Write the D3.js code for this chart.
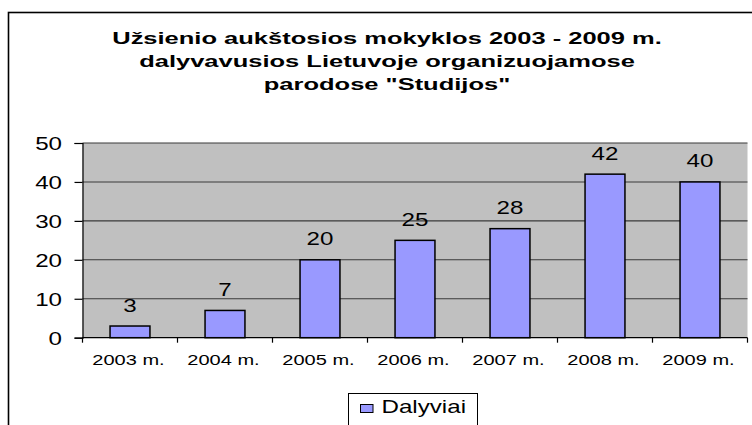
<!DOCTYPE html>
<html><head><meta charset="utf-8">
<script src="https://cdn.jsdelivr.net/npm/d3@7"></script>
<style>body{margin:0;background:#fff}svg{display:block}text{font-family:"Liberation Sans",Arial,sans-serif;fill:#000}</style>
</head><body><svg id="c" width="752" height="425"></svg>
<script>
const categories = ["2003 m.","2004 m.","2005 m.","2006 m.","2007 m.","2008 m.","2009 m."];
const values = [3,7,20,25,28,42,40];
const yTicks = [0,10,20,30,40,50];
const titleLines = ["Užsienio aukštosios mokyklos 2003 - 2009 m.","dalyvavusios Lietuvoje organizuojamose","parodose \"Studijos\""];
const seriesName = "Dalyviai";

const SX = 1.5, SX2 = 1.38;
const svg = d3.select("#c");
const L = 82.5, R = 747.5, T = 143, B = 337.7;
const x = d3.scaleBand().domain(categories).range([L,R]).paddingInner(0.58).paddingOuter(0.29);
const y = d3.scaleLinear().domain([0,50]).range([B,T]);

// outer frame
svg.append("rect").attr("x",8.5).attr("y",12.5).attr("width",800).attr("height",500)
  .attr("fill","#fff").attr("stroke","#000").attr("stroke-width",1.6);

// title
const tY = [43.5,67,90];
titleLines.forEach((t,i)=>{
  svg.append("text").attr("transform",`translate(387,${tY[i]}) scale(${SX},1)`)
    .attr("text-anchor","middle").style("font-size","17px").style("font-weight","bold").text(t);
});

// plot area
svg.append("rect").attr("x",L).attr("y",T).attr("width",R-L).attr("height",B-T).attr("fill","#c0c0c0");

// gridlines
svg.append("g").selectAll("line").data(yTicks.filter(d=>d>0)).join("line")
  .attr("x1",L).attr("x2",R).attr("y1",d=>y(d)).attr("y2",d=>y(d))
  .attr("stroke","#3a3a3a").attr("stroke-width",1.1);

// y axis
const ya = svg.append("g").attr("transform",`translate(${L},0)`)
  .call(d3.axisLeft(y).tickValues(yTicks).tickSize(8).tickPadding(0).tickFormat(d3.format("d")));
ya.select(".domain").attr("stroke","#000").attr("stroke-width",1.2);
ya.selectAll(".tick line").attr("stroke","#000").attr("stroke-width",1.2);
ya.selectAll(".tick text").remove();
ya.selectAll(".tick").append("text")
  .attr("transform",`translate(-20.5,0.5) scale(${SX2},1)`).attr("text-anchor","end").attr("dy","0.35em")
  .style("font-size","17.5px").style("font-family","'Liberation Sans',Arial,sans-serif").attr("fill","#000")
  .text(d=>d);

// bars
svg.append("g").selectAll("rect").data(values).join("rect")
  .attr("x",(d,i)=>x(categories[i])).attr("width",x.bandwidth())
  .attr("y",d=>y(d)).attr("height",d=>B-y(d))
  .attr("fill","#9999ff").attr("stroke","#000").attr("stroke-width",1.5);

// x axis
svg.append("line").attr("x1",L).attr("x2",R).attr("y1",B).attr("y2",B).attr("stroke","#000").attr("stroke-width",1.3);
const step = x.step();
svg.append("g").selectAll("line").data(d3.range(categories.length+1)).join("line")
  .attr("x1",i=>L+i*step).attr("x2",i=>L+i*step).attr("y1",B).attr("y2",B+5)
  .attr("stroke","#000").attr("stroke-width",1.2);
svg.append("g").selectAll("text").data(categories).join("text")
  .attr("transform",d=>`translate(${x(d)+x.bandwidth()/2-1.5},365) scale(${SX2},1)`)
  .attr("text-anchor","middle").style("font-size","14.5px").text(d=>d);

// data labels
svg.append("g").selectAll("text").data(values).join("text")
  .attr("transform",(d,i)=>`translate(${x(categories[i])+x.bandwidth()/2},${y(d)-14.5}) scale(${SX2},1)`)
  .attr("text-anchor","middle").style("font-size","17.5px").text(d=>d);

// legend
const lg = svg.append("g");
lg.append("rect").attr("x",348.5).attr("y",393.5).attr("width",129).attr("height",50)
  .attr("fill","#fff").attr("stroke","#000").attr("stroke-width",1);
lg.append("rect").attr("x",360.5).attr("y",404.5).attr("width",12.5).attr("height",8)
  .attr("fill","#9999ff").attr("stroke","#000").attr("stroke-width",1);
lg.append("text").attr("transform",`translate(381.5,413) scale(${SX2},1)`)
  .style("font-size","17.5px").text(seriesName);
</script></body></html>
